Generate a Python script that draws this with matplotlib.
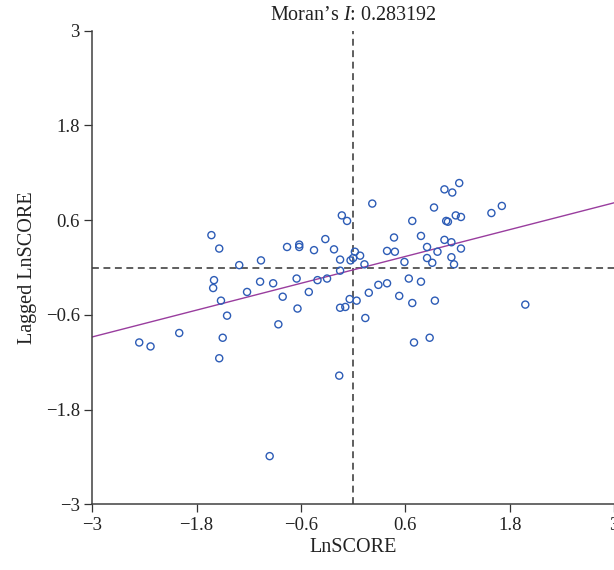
import matplotlib
matplotlib.use("Agg")
import matplotlib.pyplot as plt
import numpy as np

plt.rcParams['font.family'] = ['Liberation Serif', 'DejaVu Serif']
plt.rcParams['mathtext.fontset'] = 'custom'
plt.rcParams['mathtext.it'] = 'Liberation Serif:italic'
plt.rcParams['mathtext.rm'] = 'Liberation Serif'

# LnSCORE (x) and its spatial lag (y)
ln_score = [
    -1.63, -1.54, -0.13, -0.07, -0.76, -0.62, -0.62, -0.32, -0.45, -0.22,
    0.02, -0.15, -0.03, 0.00, -1.31, -1.06, -1.60, -1.61, -1.52, -1.45,
    -1.22, -1.07, -0.92, -0.81, -0.65, -0.51, -0.64, -0.86, -0.41, -0.30,
    -0.15, -0.04, 0.04, -0.09, -0.15, -2.46, -2.33, -2.00, -1.50, -1.54,
    -0.16, -0.96,
    0.22, 1.05, 1.22, 1.14, 0.93, 0.68, 1.07, 1.09, 1.18, 1.24,
    1.59, 1.71, 0.47, 0.78, 1.05, 1.13, 1.24, 0.39, 0.48, 0.85,
    0.97, 0.08, 0.13, 0.59, 0.85, 0.91, 1.13, 1.16, 0.64, 0.78,
    0.39, 0.29, 0.18, 0.53, 0.68, 0.94, 1.98, 0.14, 0.70, 0.88,
]
lagged = [
    0.41, 0.24, 0.66, 0.59, 0.26, 0.29, 0.26, 0.36, 0.22, 0.23,
    0.20, 0.10, 0.09, 0.12, 0.03, 0.09, -0.16, -0.26, -0.42, -0.61,
    -0.31, -0.18, -0.20, -0.37, -0.14, -0.31, -0.52, -0.72, -0.16, -0.14,
    -0.04, -0.40, -0.42, -0.50, -0.51, -0.95, -1.00, -0.83, -0.89, -1.15,
    -1.37, -2.39,
    0.81, 0.99, 1.07, 0.95, 0.76, 0.59, 0.59, 0.58, 0.66, 0.64,
    0.69, 0.78, 0.38, 0.40, 0.35, 0.32, 0.24, 0.21, 0.20, 0.26,
    0.20, 0.15, 0.04, 0.07, 0.12, 0.06, 0.13, 0.04, -0.14, -0.18,
    -0.20, -0.22, -0.32, -0.36, -0.45, -0.42, -0.47, -0.64, -0.95, -0.89,
]
morans_i = 0.283192
intercept = -0.03
ticks = [-3, -1.8, -0.6, 0.6, 1.8, 3]
tick_labels = ['\u22123', '\u22121.8', '\u22120.6', '0.6', '1.8', '3']

fig = plt.figure(figsize=(6.14, 5.70), dpi=100)
ax = fig.add_axes([0.1503, 0.1153, 0.8497, 0.8308])

ax.set_xlim(-3, 3)
ax.set_ylim(-3, 3)

# dashed mean lines
ax.axvline(0, color='#333333', lw=1.1, dashes=(4.5, 3), zorder=1)
ax.axhline(0, color='#333333', lw=1.1, dashes=(4.5, 3), zorder=1)

# regression line, slope = Moran's I
xs = np.array([-3, 3])
ax.plot(xs, morans_i * xs + intercept, color='#993d9e', lw=1.0, zorder=2)

ax.scatter(ln_score, lagged, s=26, facecolors='none', edgecolors='#2d5cb6',
           linewidths=1.0, zorder=3, clip_on=False)

ax.set_xticks(ticks)
ax.set_yticks(ticks)
ax.set_xticklabels(tick_labels)
ax.set_yticklabels(tick_labels)
ax.tick_params(direction='out', length=5.5, width=0.9, colors='#333333',
               labelsize=13.5, labelcolor='#222222', pad=3.5)

for side in ['top', 'right']:
    ax.spines[side].set_visible(False)
for side in ['left', 'bottom']:
    ax.spines[side].set_color('#404040')
    ax.spines[side].set_linewidth(1.1)

ax.set_xlabel('LnSCORE', fontsize=14.5, color='#222222', labelpad=3)
ax.set_ylabel('Lagged LnSCORE', fontsize=14.5, color='#222222', labelpad=6)
ax.set_title("Moran\u2019s $I$: 0.283192", fontsize=14.5, color='#222222', pad=8)

fig.savefig('out.png', dpi=100)
